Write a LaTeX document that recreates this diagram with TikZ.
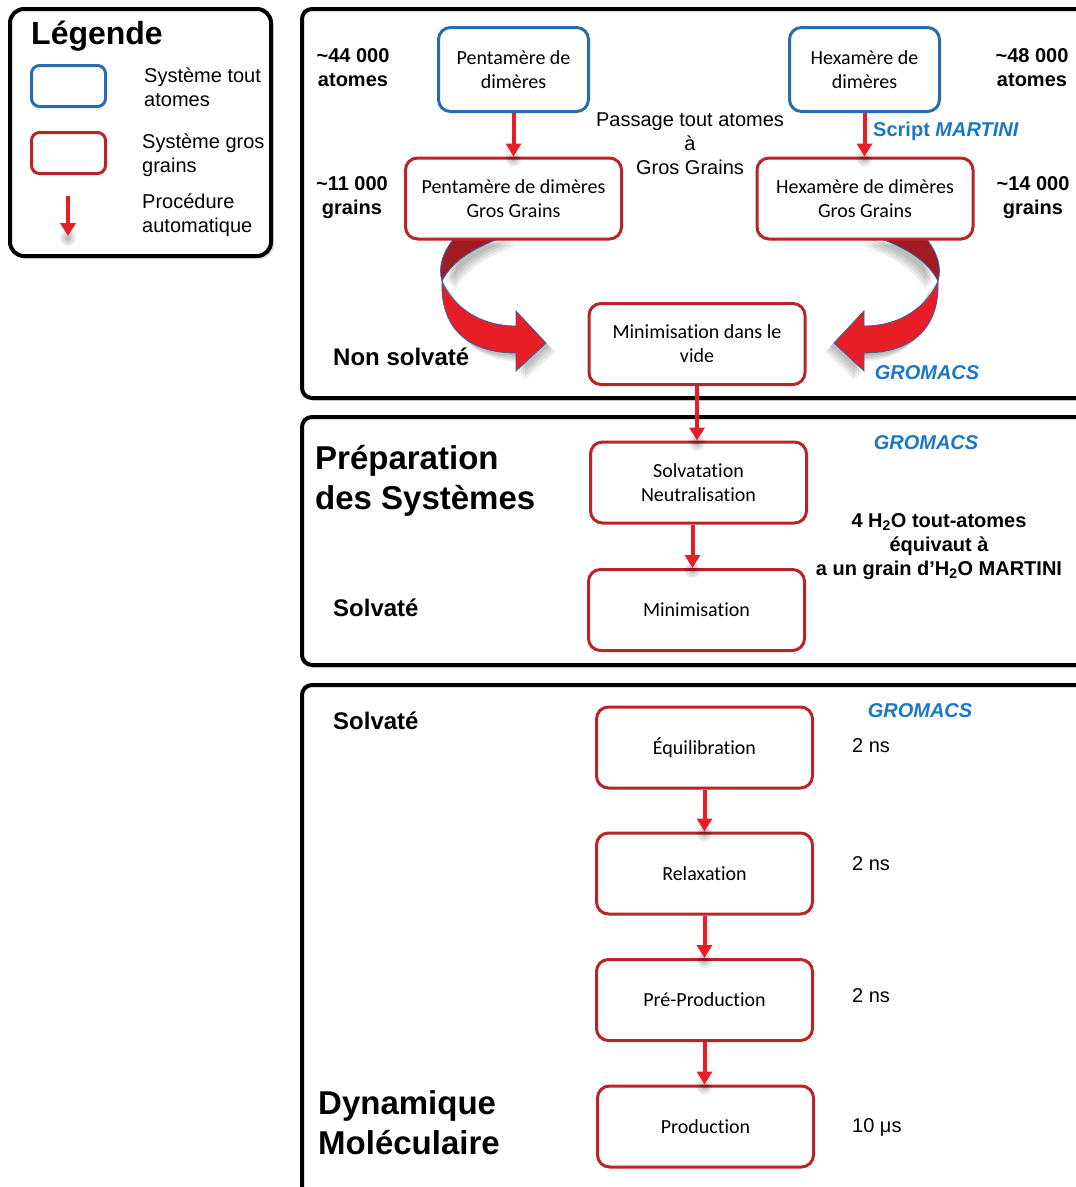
\documentclass[tikz,border=0pt]{standalone}
\usepackage{fontspec}
\setmainfont{Liberation Sans}
\newfontfamily\calfont[Ligatures=NoCommon]{Carlito}
\usetikzlibrary{arrows.meta,shadows}
\definecolor{myblue}{RGB}{40,108,172}
\definecolor{myred}{RGB}{185,35,42}
\definecolor{arrowred}{RGB}{232,30,38}
\definecolor{textblue}{RGB}{25,120,200}
\definecolor{darkred}{RGB}{160,28,34}
\definecolor{ribblue}{RGB}{50,100,170}
\tikzset{
  panel/.style={line width=4pt, rounded corners=10pt, draw=black, fill=white,
    drop shadow={shadow xshift=3pt, shadow yshift=-3pt, opacity=0.25}},
  box/.style={rounded corners=12pt, line width=3pt, fill=white, align=center,
    inner sep=0pt, font=\calfont\fontsize{20}{24}\selectfont},
  aabox/.style={box, draw=myblue, minimum width=150pt, minimum height=84pt},
  cgbox/.style={box, draw=myred, minimum width=216pt, minimum height=81pt},
  legbox/.style={rounded corners=8pt, line width=3pt, fill=white,
    minimum width=74pt, minimum height=41pt, inner sep=0pt},
  flow/.style={-{Triangle[width=15pt,length=13pt]}, line width=4pt, draw=arrowred},
  softshade/.style={fill=black, opacity=0.07},
  lab/.style={font=\bfseries\fontsize{20}{24}\selectfont, align=center, inner sep=0pt},
  plain/.style={font=\fontsize{20}{24}\selectfont, align=left, inner sep=0pt},
  soft/.style={font=\bfseries\fontsize{24}{28}\selectfont, inner sep=0pt, anchor=west},
  title/.style={font=\bfseries\fontsize{33}{40}\selectfont, align=left, inner sep=0pt, anchor=west},
  gro/.style={font=\bfseries\itshape\fontsize{20}{24}\selectfont, text=textblue, inner sep=0pt},
  ribback/.style={fill=darkred, draw=ribblue, line width=0.8pt},
  ribfront/.style={fill=arrowred, draw=ribblue, line width=0.8pt},
  mirrored/.style={xshift=1380pt, xscale=-1},
}
\newcommand\ribbonfront{(442,281) .. controls (452,305) and (478,326) .. (516,326) -- (516,311) -- (546,343) -- (516,371) -- (516,353) .. controls (470,353) and (440,330) .. (442,281) -- cycle}
\newcommand\ribbonback{(456,236) .. controls (442,252) and (438,268) .. (442,281) .. controls (452,262) and (470,249) .. (506,236) -- cycle}
\newcommand\myribbon{%
  \foreach \s in {3,5,7,9} {
    \fill[softshade, shift={(\s,\s)}] \ribbonfront;
    \fill[softshade, shift={(\s+4,\s)}] \ribbonback;
  }
  \filldraw[ribback] \ribbonback;
  \filldraw[ribfront] \ribbonfront;
}
\newcommand\tipshade[1]{%
  \foreach \r in {8,6,4,2.5} {\fill[softshade] ([yshift=-2pt]#1) circle (\r pt);}
}
\begin{document}
\begin{tikzpicture}[x=1pt,y=-1pt]
\useasboundingbox (0,0) rectangle (1076,1187);
\clip (0,0) rectangle (1076,1187);

% legend
\draw[panel, rounded corners=14pt] (10,9) rectangle (271,256);
\node[font=\bfseries\fontsize{32}{36}\selectfont, inner sep=0pt, anchor=west] (legtitle) at (31,36) {Légende};
\node[legbox, draw=myblue] (lgA) at (68.5,86) {};
\node[legbox, draw=myred] (lgB) at (68.5,153) {};
\node[plain, anchor=west] (lgAt) at (144,87) {Système tout\\atomes};
\node[plain, anchor=west] (lgBt) at (142,155) {Système gros\\grains};
\node[plain, anchor=west] (lgCt) at (142,215) {Procédure\\automatique};
\coordinate (la1) at (68,196);
\coordinate (la2) at (68,236);
\tipshade{la2}
\draw[flow] (la1) -- (la2);

% panels
\draw[panel] (302,9) rectangle (1110,398);
\draw[panel] (302,417) rectangle (1110,665);
\draw[panel] (302,685) rectangle (1110,1210);

% curved ribbon arrows
\begin{scope}
\myribbon
\end{scope}
\begin{scope}[mirrored]
\myribbon
\end{scope}

% boxes
\node[aabox] (penta) at (513.5,69.5) {Pentamère de\\dimères};
\node[aabox] (hexa) at (864.5,69.5) {Hexamère de\\dimères};
\node[cgbox] (pentacg) at (513.5,198.5) {Pentamère de dimères\\Gros Grains};
\node[cgbox] (hexacg) at (865,198.5) {Hexamère de dimères\\Gros Grains};
\node[cgbox] (minvide) at (697,344) {Minimisation dans le\\vide};
\node[cgbox] (solv) at (698.5,482.5) {Solvatation\\Neutralisation};
\node[cgbox] (mini) at (696.5,610) {Minimisation};
\node[cgbox] (equil) at (704.5,747.5) {Équilibration};
\node[cgbox] (relax) at (704.5,873.5) {Relaxation};
\node[cgbox] (prepro) at (704.5,1000) {Pré-Production};
\node[cgbox] (prod) at (705.5,1126.5) {Production};

% tip shadows
\coordinate (s1) at (penta.south |- pentacg.north);
\coordinate (s2) at (hexa.south |- hexacg.north);
\coordinate (s3) at (minvide.south |- solv.north);
\coordinate (s4) at ([xshift=-6pt]solv.south |- mini.north);
\coordinate (s5) at (equil.south |- relax.north);
\coordinate (s6) at (relax.south |- prepro.north);
\coordinate (s7) at (prepro.south |- prod.north);
\foreach \c in {s1,s2,s3,s4,s5,s6,s7} {\tipshade{\c}}

% procedure arrows
\draw[flow] (penta.south) -- (s1);
\draw[flow] (hexa.south) -- (s2);
\draw[flow] (minvide.south) -- (s3);
\draw[flow] ([xshift=-6pt]solv.south) -- (s4);
\draw[flow] (equil.south) -- (s5);
\draw[flow] (relax.south) -- (s6);
\draw[flow] (prepro.south) -- (s7);

% panel 1 labels
\node[lab] (n44) at (353,68) {\textasciitilde44 000\\atomes};
\node[lab] (n11) at (352,198) {\textasciitilde11 000\\grains};
\node[lab] (n48) at (1032,68) {\textasciitilde48 000\\atomes};
\node[lab] (n14) at (1033,198) {\textasciitilde14 000\\grains};
\node[plain, align=center] (passage) at (690,144) {Passage tout atomes\\à\\Gros Grains};
\node[font=\bfseries\fontsize{20}{24}\selectfont, text=textblue, inner sep=0pt] (script) at (946,131) {Script \textit{MARTINI}};
\node[soft] (nonsolv) at (333,357) {Non solvaté};
\node[gro] (gro1) at (927,373) {GROMACS};

% panel 2 labels
\node[title] (prep) at (315,481) {Préparation\\des Systèmes};
\node[soft] (solv2) at (333,608) {Solvaté};
\node[gro] (gro2) at (926,443) {GROMACS};
\node[lab] (water) at (939,547) {4 H\textsubscript{2}O tout-atomes\\équivaut à\\a un grain d’H\textsubscript{2}O MARTINI};

% panel 3 labels
\node[soft] (solv3) at (333,721) {Solvaté};
\node[gro] (gro3) at (920,711) {GROMACS};
\node[plain, anchor=west] (t1) at (852,746) {2 ns};
\node[plain, anchor=west] (t2) at (852,864) {2 ns};
\node[plain, anchor=west] (t3) at (852,996) {2 ns};
\node[plain, anchor=west] (t4) at (852,1127) {10 μs};
\node[title] (dyn) at (318,1123) {Dynamique\\Moléculaire};
\end{tikzpicture}
\end{document}
